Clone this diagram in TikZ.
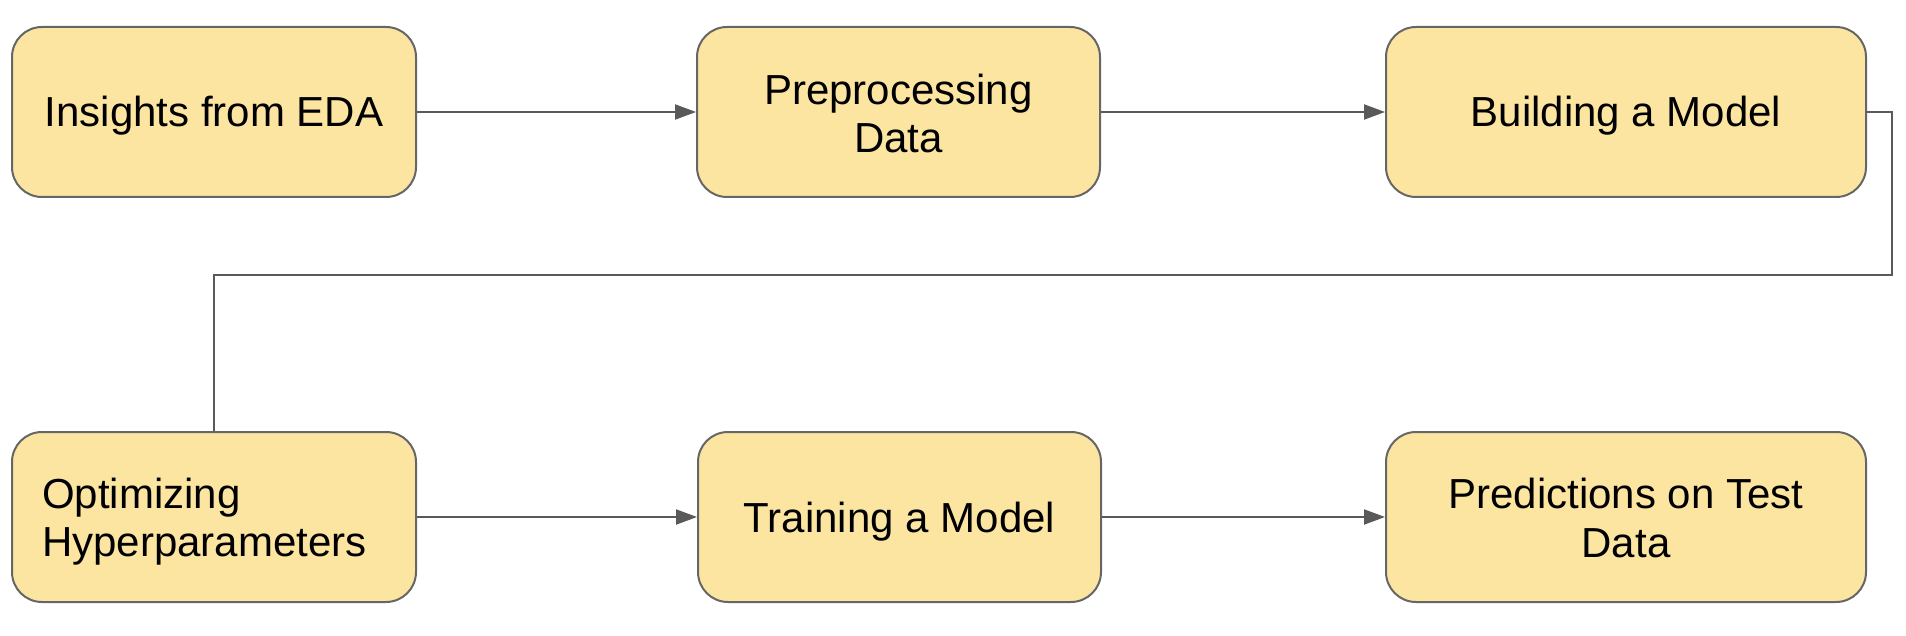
\documentclass[tikz,border=0pt]{standalone}
\usepackage{fontspec}
\setmainfont{Liberation Sans}
\usetikzlibrary{arrows.meta}
\definecolor{boxfill}{HTML}{FBE5A1}
\definecolor{boxline}{HTML}{666666}
\definecolor{connline}{HTML}{595959}
\tikzset{
  stepbox/.style={draw=boxline, fill=boxfill, line width=2pt, rounded corners=30pt,
    minimum height=170pt, inner sep=0pt, align=center,
    font=\fontsize{42}{48.6}\selectfont},
  oneline/.style={text height=30pt, text depth=0pt},
  twoline/.style={text height=#1, text depth=0pt},
  conn/.style={draw=connline, line width=2pt},
  arr/.style={conn, -{Triangle[length=21pt,width=15pt]}}
}
\begin{document}
\begin{tikzpicture}[x=1pt,y=-1pt]
\useasboundingbox (0,0) rectangle (1906,636);
\node[stepbox, oneline, minimum width=404pt] (a) at (214,112) {Insights from EDA};
\node[stepbox, twoline=82pt, minimum width=403pt] (b) at (898.5,112) {Preprocessing\\Data};
\node[stepbox, oneline, minimum width=480pt] (c) at (1626,112) {Building a Model};
\node[stepbox, minimum width=404pt, text width=344pt, inner xsep=30pt, align=left, text height=30pt, text depth=48pt] (d) at (214,517) {Optimizing\\Hyperparameters};
\node[stepbox, oneline, minimum width=403pt] (e) at (899.5,517) {Training a Model};
\node[stepbox, twoline=80pt, minimum width=480pt] (f) at (1626,517) {Predictions on Test\\Data};
\coordinate (turn) at (1892,275);
\draw[arr] (a) -- (b);
\draw[arr] (b) -- (c);
\draw[conn] (c.east) -| (turn) -| (d.north);
\draw[arr] (d) -- (e);
\draw[arr] (e) -- (f);
\end{tikzpicture}
\end{document}
